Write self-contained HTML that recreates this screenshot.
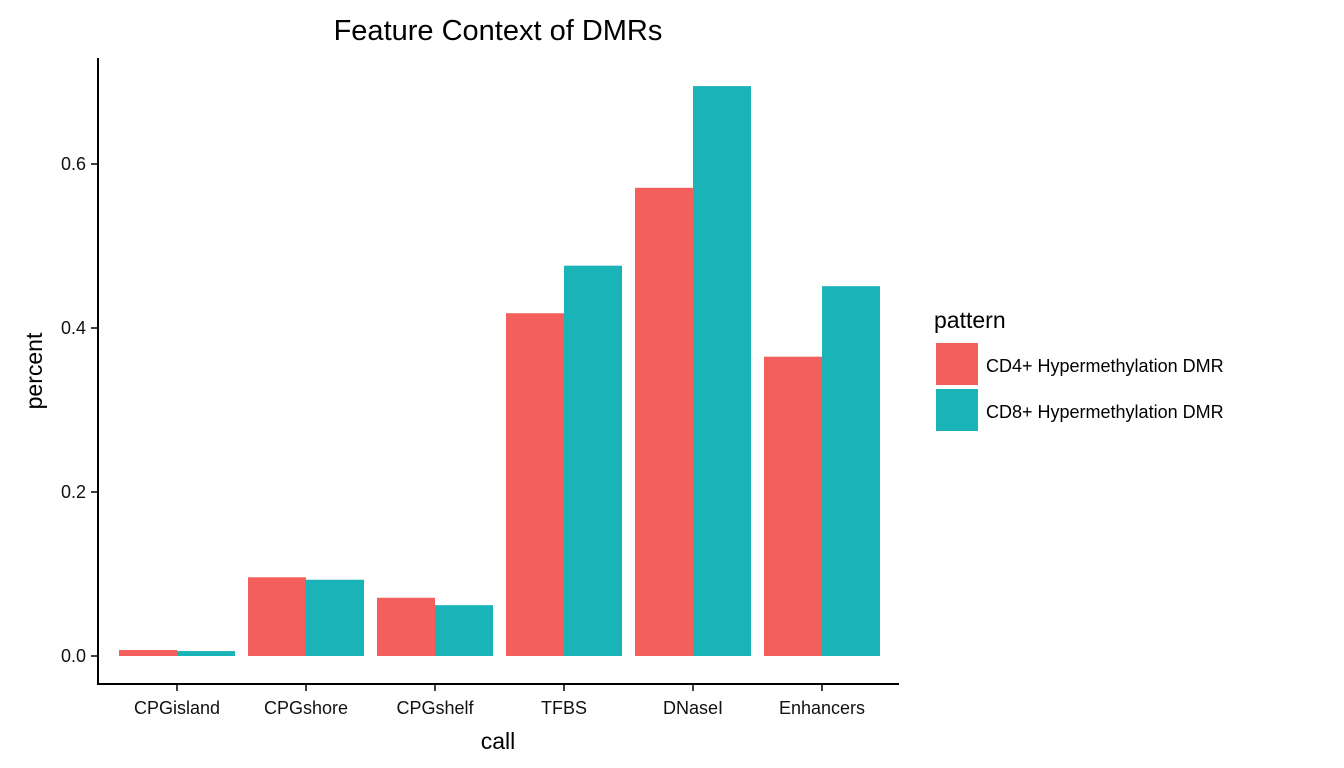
<!DOCTYPE html>
<html><head><meta charset="utf-8">
<style>
html,body{margin:0;padding:0;background:#fff;}
svg{display:block;font-family:"Liberation Sans",Arial,sans-serif;}
</style></head>
<body>
<svg id="chart" width="1344" height="768" viewBox="0 0 1344 768">
<text x="498" y="40" text-anchor="middle" font-size="29" fill="#000">Feature Context of DMRs</text>
<g id="bars"></g>
<line x1="98" y1="58" x2="98" y2="685" stroke="#000" stroke-width="2"/>
<line x1="97" y1="684" x2="899" y2="684" stroke="#000" stroke-width="2"/>
<g id="yticks"></g>
<g id="xticks"></g>
<text x="498" y="749" text-anchor="middle" font-size="23" fill="#000">call</text>
<text transform="translate(42,371) rotate(-90)" text-anchor="middle" font-size="23" fill="#000">percent</text>
<g>
<text x="934" y="328" font-size="23" fill="#000">pattern</text>
<rect x="936" y="343" width="42" height="42" fill="#F25F5C"/>
<text x="986" y="372" font-size="18" fill="#000">CD4+ Hypermethylation DMR</text>
<rect x="936" y="389" width="42" height="42" fill="#1AB3B8"/>
<text x="986" y="418" font-size="18" fill="#000">CD8+ Hypermethylation DMR</text>
</g>
</svg>
<script>
const categories = ["CPGisland","CPGshore","CPGshelf","TFBS","DNaseI","Enhancers"];
const cd4Values = [0.0073,0.096,0.071,0.418,0.571,0.365];
const cd8Values = [0.006,0.093,0.062,0.476,0.695,0.451];
const yTicks = [0.0,0.2,0.4,0.6];
const yTickLabels = ["0.0","0.2","0.4","0.6"];

const NS="http://www.w3.org/2000/svg";
function y(v){return 656 - v*820;}
function xc(i){return 177 + i*129;}
const bw=58;
const bars=document.getElementById('bars');
function mk(tag,attrs,parent){const e=document.createElementNS(NS,tag);for(const k in attrs)e.setAttribute(k,attrs[k]);parent.appendChild(e);return e;}
categories.forEach((c,i)=>{
  const r=mk('rect',{x:xc(i)-bw,y:y(cd4Values[i]),width:bw,height:y(0)-y(cd4Values[i]),fill:'#F25F5C'},bars);
  
  
  const t=mk('rect',{x:xc(i),y:y(cd8Values[i]),width:bw,height:y(0)-y(cd8Values[i]),fill:'#1AB3B8'},bars);
  
  
});
const xt=document.getElementById('xticks');
categories.forEach((c,i)=>{
  const l=mk('line',{x1:xc(i),x2:xc(i),y1:684,y2:691,stroke:'#000','stroke-width':1.5},xt);
  
  
  const t=mk('text',{x:xc(i),y:714,'text-anchor':'middle','font-size':18,fill:'#111'},xt);
  t.textContent=c;
  
  
});
const yt=document.getElementById('yticks');
yTicks.forEach((v,i)=>{
  const l=mk('line',{x1:91,x2:98,y1:y(v),y2:y(v),stroke:'#000','stroke-width':1.5},yt);
  
  
  const t=mk('text',{x:86,y:y(v)+6,'text-anchor':'end','font-size':18,fill:'#111'},yt);
  t.textContent=yTickLabels[i];
  
  
});
</script>
</body></html>
